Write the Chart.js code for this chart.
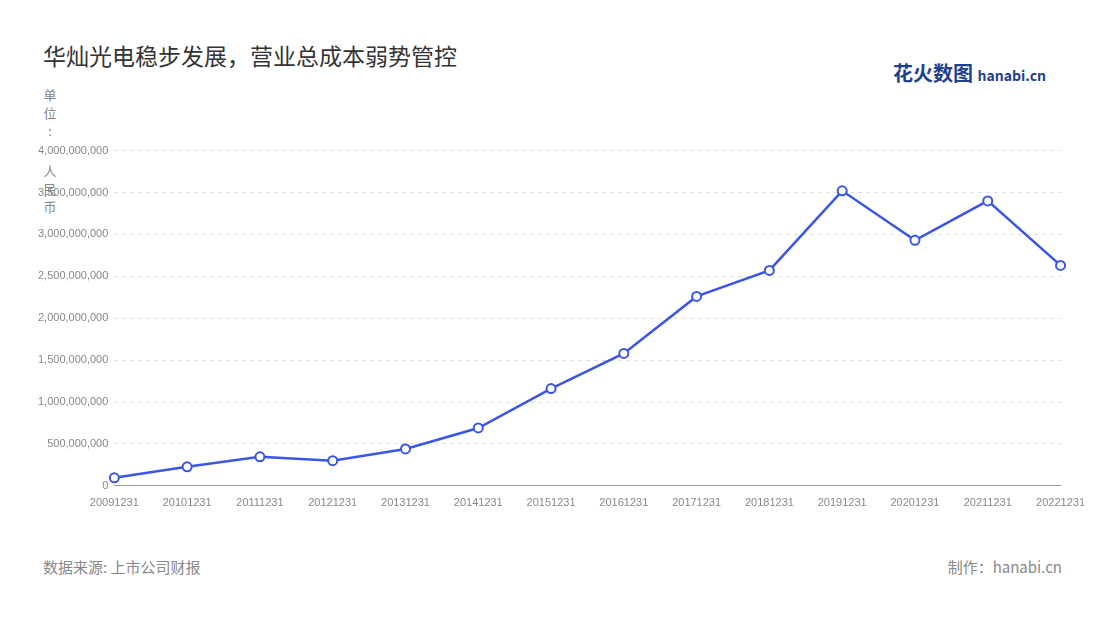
<!DOCTYPE html>
<html lang="zh">
<head>
<meta charset="UTF-8">
<script src="https://cdn.jsdelivr.net/npm/chart.js"></script>
<style>
  body { margin: 0; background: #fff; font-family: "Noto Sans CJK SC", "Noto Sans", sans-serif; }
  #wrap { position: relative; width: 1100px; height: 620px; }
  #title { position: absolute; left: 43px; top: 38px; font-size: 23px; color: #333; }
  #unit { position: absolute; left: 42px; top: 86px; width: 16px; font-size: 13px; line-height: 18px; color: #888; text-align: center; }
  #logo { position: absolute; left: 893px; top: 58px; font-size: 20px; font-weight: bold; color: #1f3f8f; }
  #logo small { font-size: 14px; }
  #src { position: absolute; left: 43px; top: 556px; font-size: 15px; color: #888; }
  #by { position: absolute; right: 38px; top: 556px; font-size: 15px; color: #888; }
  #box { position: absolute; left: 32px; top: 138px; width: 1056px; height: 375px; }
</style>
</head>
<body>
<div id="wrap">
  <div id="title">华灿光电稳步发展，营业总成本弱势管控</div>
  <div id="unit">单<br>位<br>:<br><br><span style="display:block;margin-top:4px">人<br>民<br>币</span></div>
  <div id="logo">花火数图 <small>hanabi.cn</small></div>
  <div id="box"><canvas id="myChart"></canvas></div>
  <div id="src">数据来源: 上市公司财报</div>
  <div id="by">制作：hanabi.cn</div>
</div>
<script>
  const years = ["20091231", "20101231", "20111231", "20121231", "20131231", "20141231", "20151231",
                 "20161231", "20171231", "20181231", "20191231", "20201231", "20211231", "20221231"];
  const totalCost = [95e6, 227e6, 346e6, 300e6, 440e6, 690e6, 1160e6,
                     1580e6, 2260e6, 2570e6, 3520e6, 2930e6, 3400e6, 2630e6];

  new Chart("myChart", {
    type: "line",
    data: {
      labels: years,
      datasets: [{
        data: totalCost,
        borderColor: "#3a56e8",
        borderWidth: 2.5,
        pointBackgroundColor: "#fff",
        pointBorderColor: "#3a56e8",
        pointBorderWidth: 2,
        pointRadius: 4.5,
        tension: 0
      }]
    },
    options: {
      responsive: true,
      maintainAspectRatio: false,
      animation: false,
      layout: { padding: { right: 10 } },
      plugins: { legend: { display: false }, tooltip: { enabled: false } },
      scales: {
        x: {
          offset: false,
          grid: { display: false },
          border: { color: "#999" },
          ticks: { color: "#888", font: { size: 11 }, maxRotation: 0, autoSkip: false }
        },
        y: {
          min: 0, max: 4e9,
          grid: { color: "#ddd", drawTicks: false },
          border: { display: false, dash: [4, 4] },
          ticks: {
            stepSize: 5e8, color: "#888", font: { size: 11 }, padding: 6,
            callback: v => v.toLocaleString("en-US")
          }
        }
      }
    }
  });
</script>
</body>
</html>
